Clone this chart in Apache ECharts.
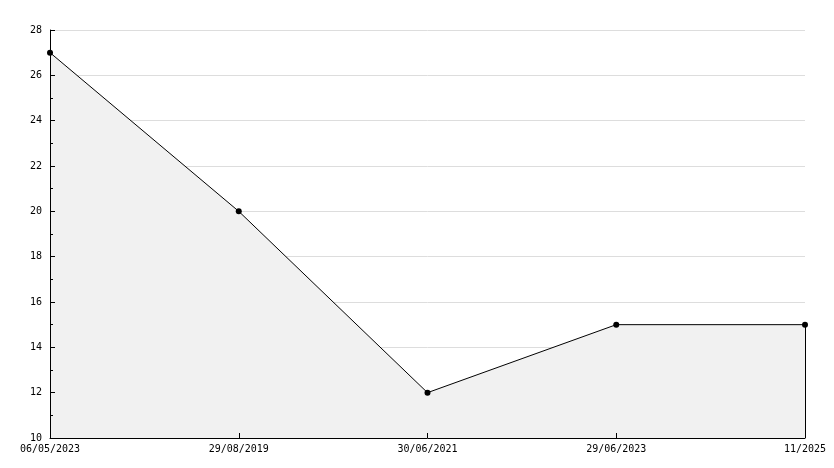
<!DOCTYPE html>
<html><head><meta charset="utf-8">
<script src="https://cdn.jsdelivr.net/npm/echarts@6/dist/echarts.min.js"></script>
<style>html,body{margin:0;padding:0;background:#fff}#c{width:834px;height:468px}</style>
</head><body><div id="c"></div>
<script>
const categories = ['06/05/2023', '29/08/2019', '30/06/2021', '29/06/2023', '11/2025'];
const values = [27, 20, 12, 15, 15];
const yMin = 10, yMax = 28, yStep = 2;

const font = 'DejaVu Sans Mono';
const chart = echarts.init(document.getElementById('c'), null, {renderer: 'canvas'});
chart.setOption({
  animation: false,
  backgroundColor: '#ffffff',
  grid: {left: 50, right: 29, top: 30, bottom: 30, containLabel: false},
  xAxis: {
    type: 'category', data: categories, boundaryGap: false, z: 5,
    axisLine: {lineStyle: {color: '#000', width: 1}},
    axisTick: {inside: true, length: 5, lineStyle: {color: '#000'}},
    axisLabel: {color: '#000', fontFamily: font, fontSize: 10, margin: 6, showMinLabel: true, showMaxLabel: true},
    splitLine: {show: false}
  },
  yAxis: [{
    type: 'value', min: yMin, max: yMax, interval: yStep, z: 0, position: 'left',
    axisLine: {show: false},
    axisTick: {show: false},
    axisLabel: {color: '#000', fontFamily: font, fontSize: 10, margin: 8},
    splitLine: {show: true, lineStyle: {color: '#dddddd', width: 1}}
  }, {
    type: 'value', min: yMin, max: yMax, interval: yStep, z: 5, position: 'left', offset: 0,
    axisLine: {show: true, onZero: false, lineStyle: {color: '#000', width: 1}},
    axisTick: {show: true, inside: true, length: 5, lineStyle: {color: '#000'}},
    minorTick: {show: true, splitNumber: 2, length: 3, lineStyle: {color: '#000'}},
    axisLabel: {show: false},
    splitLine: {show: false}
  }],
  series: [{
    type: 'line', data: values, z: 2, yAxisIndex: 0,
    lineStyle: {color: '#000', width: 1},
    itemStyle: {color: '#000'},
    symbol: 'circle', symbolSize: 6,
    areaStyle: {color: '#f1f1f1', opacity: 1, origin: 'start'},
    markLine: {
      silent: true, symbol: 'none', label: {show: false},
      lineStyle: {color: '#000', width: 1, type: 'solid'},
      data: [[{coord: [categories[categories.length-1], yMin]}, {coord: [categories[categories.length-1], values[values.length-1]]}]]
    }
  }]
});
</script></body></html>
